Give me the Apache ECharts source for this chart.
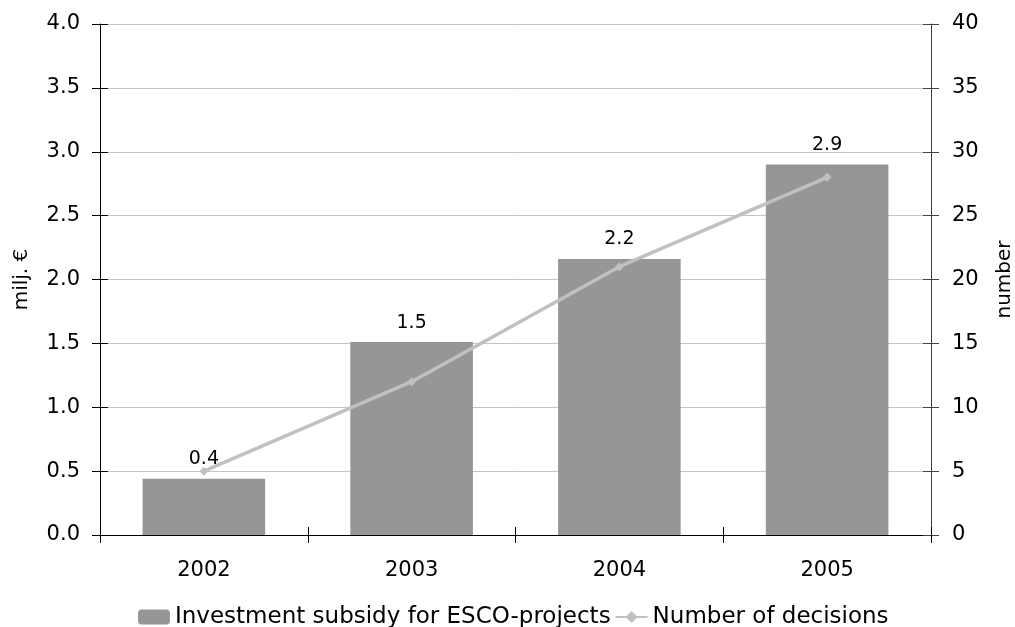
<!DOCTYPE html>
<html>
<head>
<meta charset="utf-8">
<script src="https://cdn.jsdelivr.net/npm/echarts@6/dist/echarts.min.js"></script>
<style>
html,body{margin:0;padding:0;background:#fff;overflow:hidden;}
#chart{width:1015px;height:627px;}
</style>
</head>
<body>
<div id="chart"></div>
<script>
// Investment subsidy for ESCO projects and number of decisions, 2002-2005
const years = ['2002', '2003', '2004', '2005'];
const subsidy = [0.44, 1.51, 2.16, 2.9];     // milj. €
const decisions = [5, 12, 21, 28];           // number

const FONT = 'DejaVu Sans';
const chart = echarts.init(document.getElementById('chart'));

// ticks that cross the axis line: one half drawn outside, the other inside
const tick = (inside, color) => ({ show: true, inside: inside, length: 8, lineStyle: { color: color, width: 1 } });

chart.setOption({
  animation: false,
  textStyle: { fontFamily: FONT },
  grid: { left: 100, right: 84, top: 24, bottom: 92, outerBoundsMode: 'none', containLabel: false },
  legend: {
    top: 600,
    left: 133,
    itemWidth: 32,
    itemHeight: 15,
    itemGap: 4,
    textStyle: { fontFamily: FONT, fontSize: 23, lineHeight: 24, color: '#000' },
    data: ['Investment subsidy for ESCO-projects', 'Number of decisions']
  },
  xAxis: [
    {
      type: 'category',
      data: years,
      axisLine: { lineStyle: { color: '#000', width: 1 } },
      axisTick: tick(false, '#000'),
      axisLabel: { color: '#000', fontSize: 21, fontFamily: FONT, margin: 25 }
    },
    {
      type: 'category',
      data: years,
      position: 'bottom',
      axisLine: { show: false },
      axisTick: tick(true, '#000'),
      axisLabel: { show: false }
    }
  ],
  yAxis: [
    {
      type: 'value',
      min: 0, max: 4, interval: 0.5,
      name: 'milj. €',
      nameLocation: 'middle',
      nameGap: 68,
      nameTextStyle: { color: '#000', fontSize: 20, fontFamily: FONT },
      axisLine: { show: true, lineStyle: { color: '#000' } },
      axisTick: tick(false, '#000'),
      axisLabel: { color: '#000', fontSize: 21, fontFamily: FONT, margin: 20, formatter: v => v.toFixed(1) },
      splitLine: { show: true, lineStyle: { color: '#c4c4c4', width: 1 } }
    },
    {
      type: 'value',
      min: 0, max: 40, interval: 5,
      position: 'right',
      name: 'number',
      nameLocation: 'middle',
      nameGap: 64,
      nameTextStyle: { color: '#000', fontSize: 20, fontFamily: FONT },
      axisLine: { show: true, lineStyle: { color: '#404040' } },
      axisTick: tick(false, '#404040'),
      axisLabel: { color: '#000', fontSize: 21, fontFamily: FONT, margin: 21 },
      splitLine: { show: false }
    },
    {
      type: 'value',
      min: 0, max: 4, interval: 0.5,
      position: 'left',
      axisLine: { show: false },
      axisTick: tick(true, '#000'),
      axisLabel: { show: false },
      splitLine: { show: false }
    },
    {
      type: 'value',
      min: 0, max: 40, interval: 5,
      position: 'right',
      axisLine: { show: false },
      axisTick: tick(true, '#404040'),
      axisLabel: { show: false },
      splitLine: { show: false }
    }
  ],
  series: [
    {
      name: 'Investment subsidy for ESCO-projects',
      type: 'bar',
      data: subsidy,
      yAxisIndex: 0,
      barWidth: '59%',
      itemStyle: { color: '#969696' },
      label: {
        show: true,
        position: 'top',
        distance: 10,
        color: '#000',
        fontSize: 19,
        fontFamily: FONT,
        formatter: p => p.value.toFixed(1)
      }
    },
    {
      name: 'Number of decisions',
      type: 'line',
      data: decisions,
      yAxisIndex: 1,
      symbol: 'diamond',
      symbolSize: 9,
      lineStyle: { color: '#c0c0c0', width: 3.5 },
      itemStyle: { color: '#c0c0c0' },
      z: 5
    }
  ]
});
</script>
</body>
</html>
